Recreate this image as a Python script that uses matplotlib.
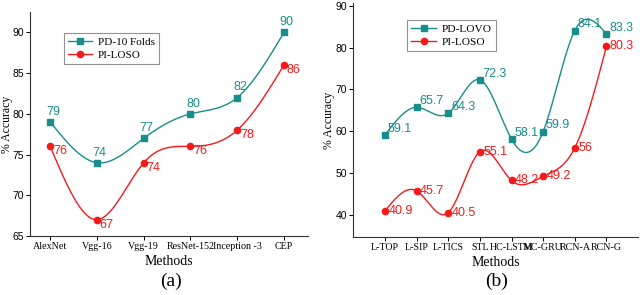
import numpy as np
import matplotlib
matplotlib.use("Agg")
import matplotlib.pyplot as plt

# panel (a)
methods_a = ["AlexNet", "Vgg-16", "Vgg-19", "ResNet-152", "Inception -3", "CEP"]
pd_a = [79, 74, 77, 80, 82, 90]
pi_a = [76, 67, 74, 76, 78, 86]

# panel (b)
methods_b = ["L-TOP", "L-SIP", "L-TICS", "STL", "HC-LSTM", "MC-GRU", "RCN-A", "RCN-G"]
pd_b = [59.1, 65.7, 64.3, 72.3, 58.1, 59.9, 84.1, 83.3]
pi_b = [40.9, 45.7, 40.5, 55.1, 48.2, 49.2, 56, 80.3]

TEAL = "#178d8c"
RED = "#f51a1a"
SERIF = "Liberation Serif"
SANS = "Liberation Sans"


def spline(x, y, n=40):
    # natural cubic spline, only used to draw the smooth line between points
    x = np.asarray(x, float)
    y = np.asarray(y, float)
    m = len(x)
    h = np.diff(x)
    A = np.zeros((m, m))
    b = np.zeros(m)
    A[0, 0] = A[-1, -1] = 1
    for i in range(1, m - 1):
        A[i, i - 1] = h[i - 1]
        A[i, i] = 2 * (h[i - 1] + h[i])
        A[i, i + 1] = h[i]
        b[i] = 3 * ((y[i + 1] - y[i]) / h[i] - (y[i] - y[i - 1]) / h[i - 1])
    c = np.linalg.solve(A, b)
    xs, ys = [], []
    for i in range(m - 1):
        bi = (y[i + 1] - y[i]) / h[i] - h[i] * (2 * c[i] + c[i + 1]) / 3
        di = (c[i + 1] - c[i]) / (3 * h[i])
        t = np.linspace(0, h[i], n)
        xs.append(x[i] + t)
        ys.append(y[i] + bi * t + c[i] * t ** 2 + di * t ** 3)
    return np.concatenate(xs), np.concatenate(ys)


def series(ax, x, y, color, marker, label, ms):
    sx, sy = spline(x, y)
    ax.plot(sx, sy, color=color, lw=1.0)
    ax.plot(x, y, color=color, lw=1.0, ls="none", marker=marker, ms=ms)
    # proxy for the legend (line + marker)
    ax.plot([], [], color=color, lw=1.0, marker=marker, ms=ms, label=label)


def style(ax, labels, yticks, ylab_x):
    for s in ["top", "right"]:
        ax.spines[s].set_visible(False)
    for s in ["left", "bottom"]:
        ax.spines[s].set_linewidth(0.8)
        ax.spines[s].set_color("#333333")
    ax.set_xticks(range(1, len(labels) + 1))
    ax.set_xticklabels(labels, fontsize=7.2, family=SERIF)
    ax.set_yticks(yticks)
    for t in ax.get_yticklabels():
        t.set_family(SANS)
        t.set_fontsize(7.5)
    ax.tick_params(direction="out", length=3, width=0.7, pad=1.5)
    ax.set_ylabel("% Accuracy", family=SERIF, fontsize=8.5)
    ax.yaxis.set_label_coords(ylab_x, 0.5)
    ax.set_xlabel("Methods", family=SERIF, fontsize=10, labelpad=3)


def legend(ax, x, y, size):
    leg = ax.legend(loc="upper left", bbox_to_anchor=(x, y), borderaxespad=0,
                    prop={"family": SERIF, "size": size}, frameon=True, fancybox=False,
                    handlelength=2.2, borderpad=0.35, labelspacing=0.3, handletextpad=0.5)
    leg.get_frame().set_edgecolor("#777777")
    leg.get_frame().set_linewidth(0.8)


fig = plt.figure(figsize=(6.4, 2.95), dpi=100)

# ---------- (a)
ax1 = fig.add_axes([0.047, 0.2, 0.434, 0.759])
xa = np.arange(1, len(methods_a) + 1)
series(ax1, xa, pd_a, TEAL, "s", "PD-10 Folds", 4)
series(ax1, xa, pi_a, RED, "o", "PI-LOSO", 4.5)
for x, v in zip(xa, pd_a):
    ax1.annotate(str(v), (x, v), xytext=(2, 3), textcoords="offset points",
                 ha="center", va="bottom", color=TEAL, fontsize=9, family=SANS)
for x, v in zip(xa, pi_a):
    ax1.annotate(str(v), (x, v), xytext=(2, -3.5), textcoords="offset points",
                 ha="left", va="center", color=RED, fontsize=9, family=SANS)
ax1.set_xlim(0.57, 6.51)
ax1.set_ylim(65, 92.5)
style(ax1, methods_a, [65, 70, 75, 80, 85, 90], -0.062)
legend(ax1, 0.122, 0.906, 8)

# ---------- (b)
ax2 = fig.add_axes([0.552, 0.197, 0.445, 0.793])
xb = np.arange(1, len(methods_b) + 1)
series(ax2, xb, pd_b, TEAL, "s", "PD-LOVO", 4)
series(ax2, xb, pi_b, RED, "o", "PI-LOSO", 4.5)
for x, v in zip(xb, pd_b):
    ax2.annotate(str(v), (x, v), xytext=(2, 4.5), textcoords="offset points",
                 ha="left", va="center", color=TEAL, fontsize=9, family=SANS)
for x, v in zip(xb, pi_b):
    ax2.annotate(str(v), (x, v), xytext=(2.5, 0), textcoords="offset points",
                 ha="left", va="center", color=RED, fontsize=9, family=SANS)
ax2.set_xlim(0, 9)
ax2.set_ylim(34.7, 90.7)
style(ax2, methods_b, [40, 50, 60, 70, 80, 90], -0.064)
legend(ax2, 0.19, 0.927, 8.2)

fig.text(171 / 640, 1 - 281 / 295, "(a)", family=SERIF, fontsize=14, ha="center", va="center")
fig.text(497 / 640, 1 - 281 / 295, "(b)", family=SERIF, fontsize=14, ha="center", va="center")

fig.savefig("out.png", dpi=100)
